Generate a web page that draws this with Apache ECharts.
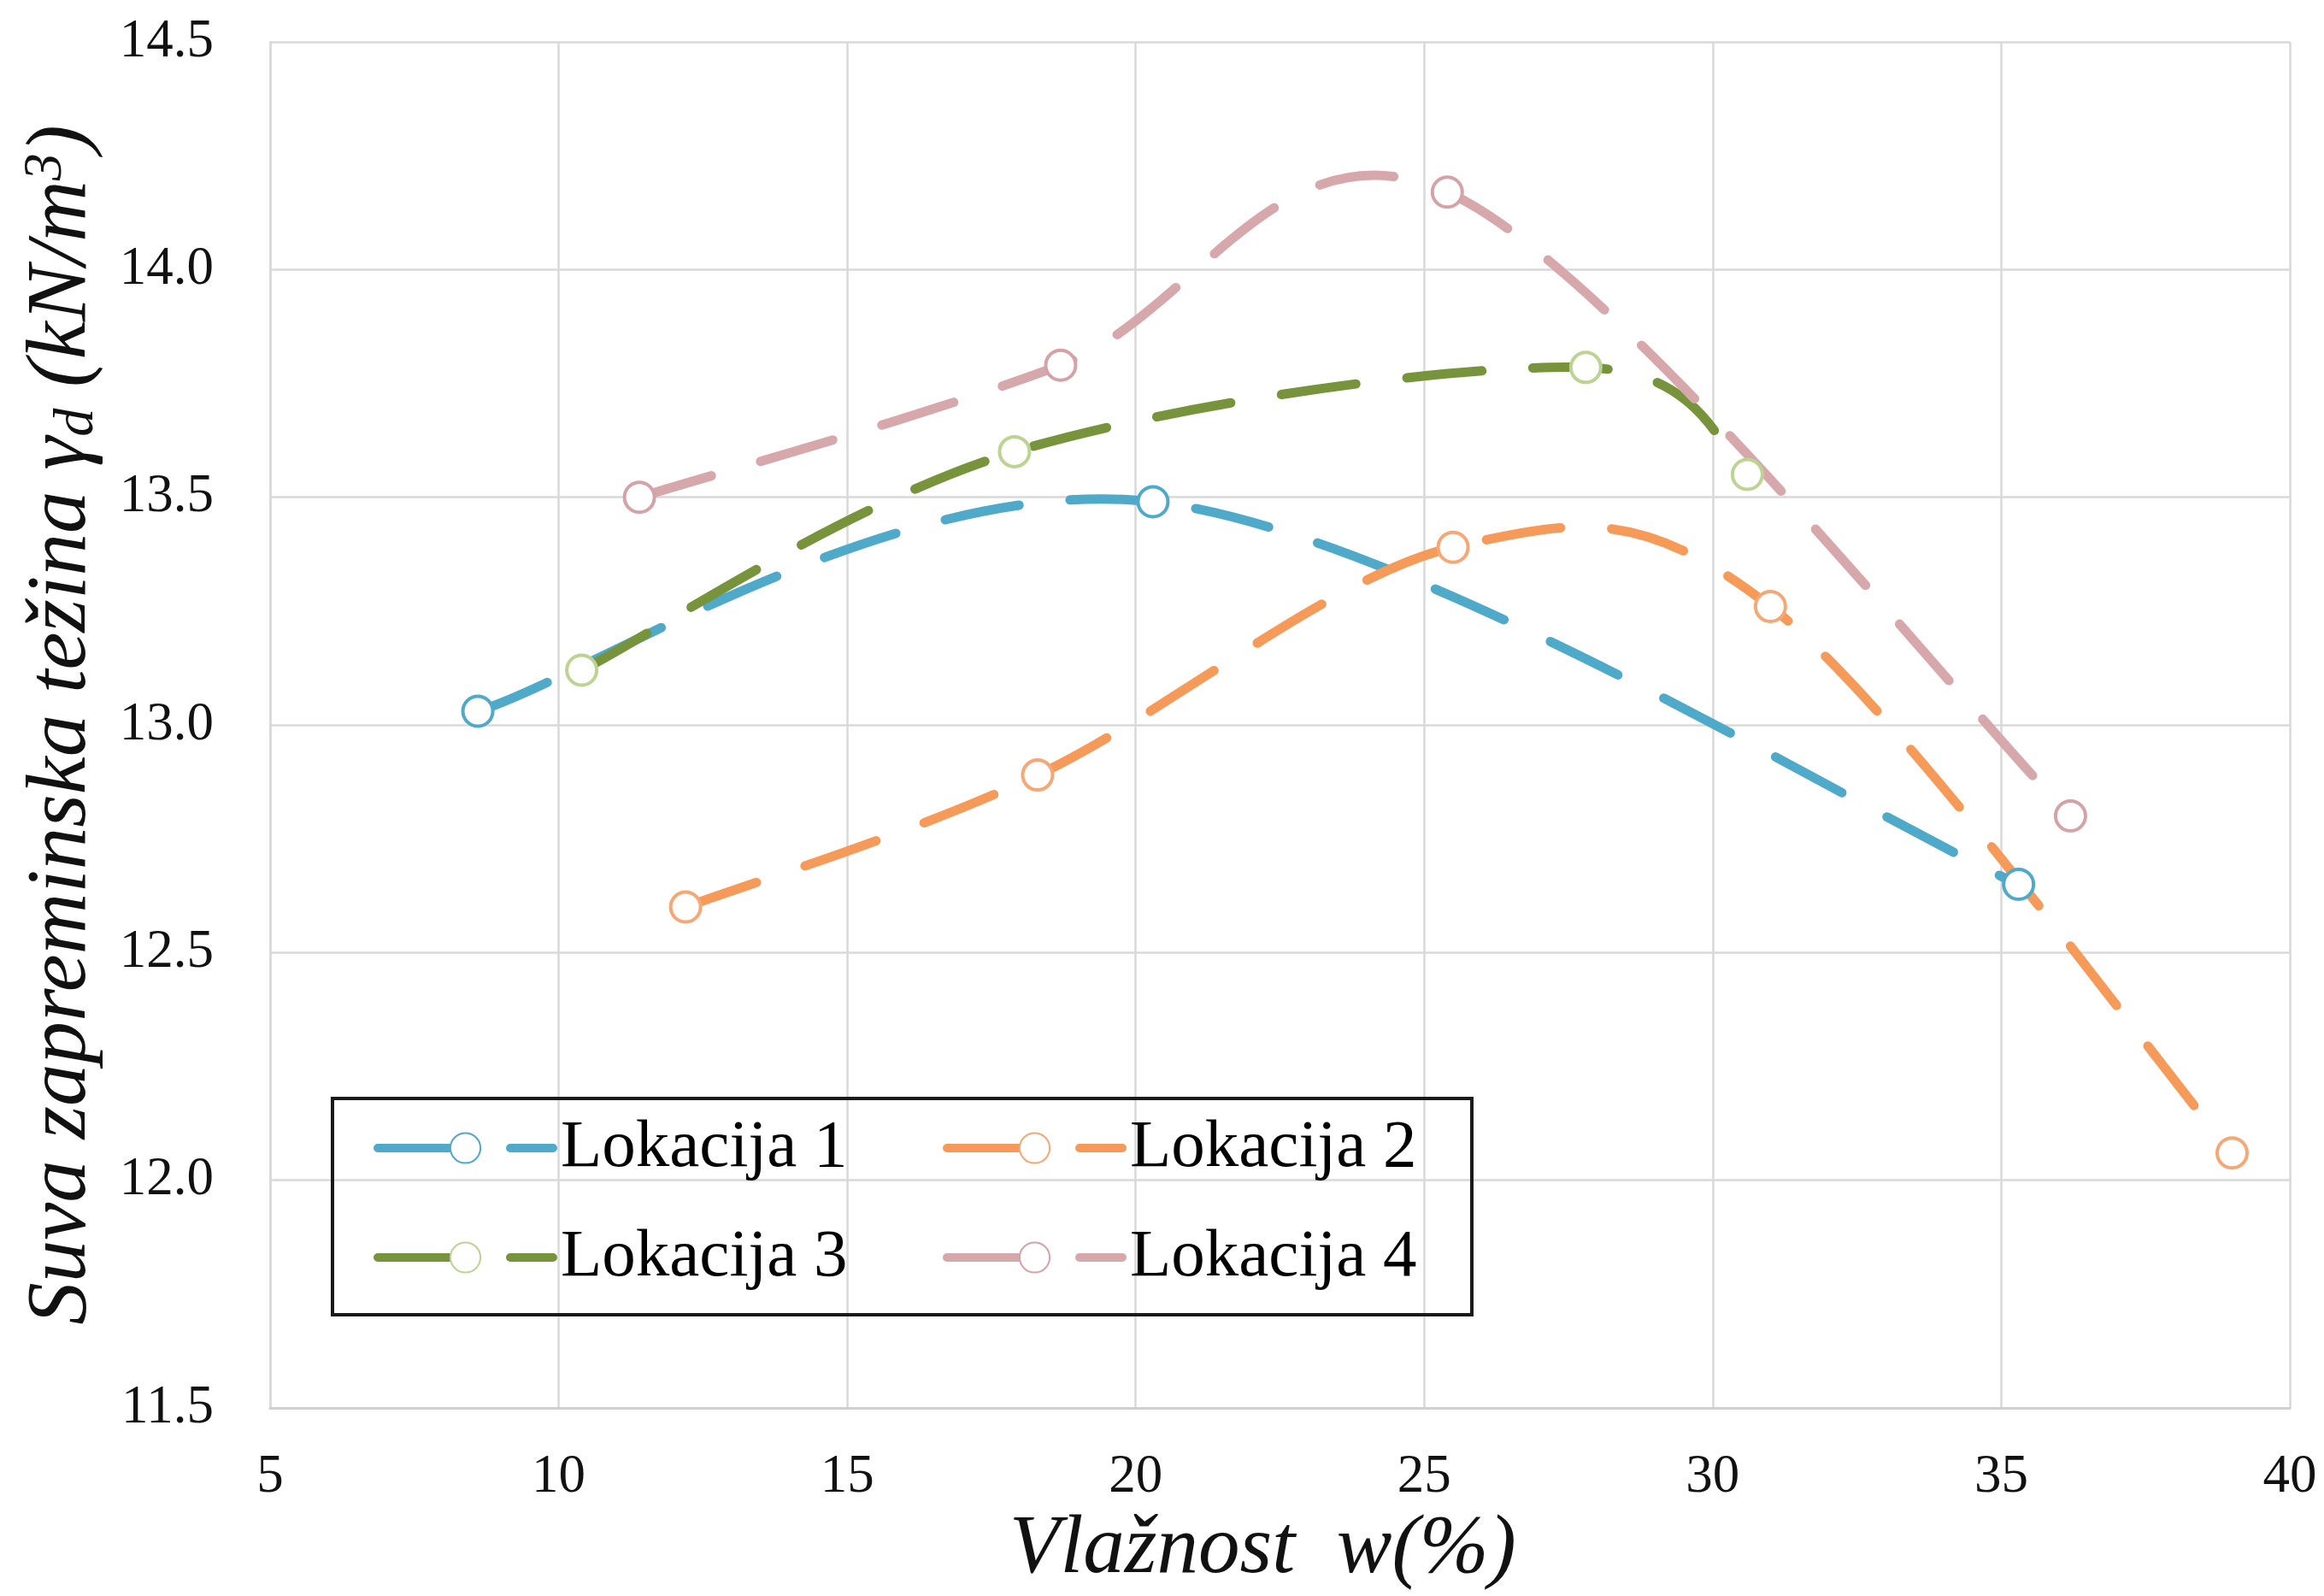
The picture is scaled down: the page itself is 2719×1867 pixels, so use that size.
<!DOCTYPE html>
<html>
<head>
<meta charset="utf-8">
<script src="https://cdn.jsdelivr.net/npm/echarts@6/dist/echarts.min.js"></script>
<style>html,body{margin:0;padding:0;background:#fff}#c{width:2719px;height:1867px}</style>
</head>
<body>
<div id="c"></div>
<script>
const seriesNames = ['Lokacija 1', 'Lokacija 2', 'Lokacija 3', 'Lokacija 4'];
const lok1X = [8.6, 20.3, 35.3];
const lok1Y = [13.03, 13.49, 12.65];
const lok2X = [12.2, 18.3, 25.5, 31.0, 39.0];
const lok2Y = [12.60, 12.89, 13.39, 13.26, 12.06];
const lok3X = [10.4, 17.9, 27.8, 30.6];
const lok3Y = [13.12, 13.60, 13.785, 13.55];
const lok4X = [11.4, 18.7, 25.4, 36.2];
const lok4Y = [13.50, 13.79, 14.17, 12.80];
const xTicks = [5, 10, 15, 20, 25, 30, 35, 40];
const yTicks = [11.5, 12.0, 12.5, 13.0, 13.5, 14.0, 14.5];

const lineColors = ['#4FA9C8', '#F69A5A', '#77933C', '#D7A8AB'];
const markerColors = ['#4FA9C8', '#F7A774', '#BCD393', '#D4A3A7'];

const FONT = '"Liberation Serif", "DejaVu Serif", serif';
const DASH = [88, 60];

function pairs(xs, ys) { return xs.map((x, i) => [x, ys[i]]); }
const allData = [pairs(lok1X, lok1Y), pairs(lok2X, lok2Y), pairs(lok3X, lok3Y), pairs(lok4X, lok4Y)];

// Smoothed curve (Catmull-Rom style Bezier, like a spreadsheet's smoothed line),
// computed in pixel space from the axis scales.
function curveRenderer(idx) {
  return function (params, api) {
    if (params.dataIndex !== 0) return null;
    const pts = allData[idx].map(p => api.coord(p));
    const n = pts.length;
    let d = 'M' + pts[0][0] + ' ' + pts[0][1];
    for (let k = 0; k < n - 1; k++) {
      const p0 = pts[Math.max(0, k - 1)];
      const p1 = pts[k];
      const p2 = pts[k + 1];
      const p3 = pts[Math.min(n - 1, k + 2)];
      const c1x = p1[0] + (p2[0] - p0[0]) / 6;
      const c1y = p1[1] + (p2[1] - p0[1]) / 6;
      const c2x = p2[0] - (p3[0] - p1[0]) / 6;
      const c2y = p2[1] - (p3[1] - p1[1]) / 6;
      d += ' C' + c1x + ' ' + c1y + ' ' + c2x + ' ' + c2y + ' ' + p2[0] + ' ' + p2[1];
    }
    return {
      type: 'path',
      shape: { pathData: d },
      style: { fill: 'none', stroke: lineColors[idx], lineWidth: 11, lineDash: DASH, lineCap: 'round', lineJoin: 'round' }
    };
  };
}

const markerSeries = seriesNames.map((name, i) => ({
  name: name,
  type: 'line',
  data: allData[i],
  smooth: false,
  symbol: 'circle',
  symbolSize: 35,
  showSymbol: true,
  lineStyle: { color: lineColors[i], width: 11, opacity: 0 },
  itemStyle: { color: '#ffffff', borderColor: markerColors[i], borderWidth: 4 },
  z: 5
}));

const curveSeries = seriesNames.map((name, i) => ({
  name: name + ' ',
  type: 'custom',
  data: allData[i],
  renderItem: curveRenderer(i),
  clip: false,
  silent: true,
  z: 2 + i * 0.1
}));

const legendCommon = {
  orient: 'vertical', top: 1301, padding: 0,
  itemWidth: 205, itemHeight: 44, itemGap: 44,
  lineStyle: { opacity: 1, width: 10, type: [85, 70], cap: 'round' },
  textStyle: { fontFamily: FONT, fontSize: 79, color: '#000', lineHeight: 84, padding: [0, 0, 0, 4] }
};

const chart = echarts.init(document.getElementById('c'), null, { renderer: 'canvas' });
chart.setOption({
  backgroundColor: '#ffffff',
  animation: false,
  textStyle: { fontFamily: FONT },
  grid: { left: 316, right: 40, top: 49, bottom: 220, containLabel: false },
  xAxis: {
    type: 'value', min: xTicks[0], max: xTicks[xTicks.length - 1], interval: 5,
    axisLine: { show: true, lineStyle: { color: '#d0d0d0', width: 3 } },
    axisTick: { show: false },
    splitLine: { show: true, lineStyle: { color: '#d9d9d9', width: 2.5 } },
    axisLabel: { fontFamily: FONT, fontSize: 63, color: '#111', margin: 50 },
    name: 'Vlažnost  w(%)',
    nameLocation: 'middle',
    nameGap: 118,
    nameTextStyle: { fontFamily: FONT, fontSize: 97, fontStyle: 'italic', color: '#111', padding: [0, 40, 0, 0] }
  },
  yAxis: {
    type: 'value', min: yTicks[0], max: yTicks[yTicks.length - 1], interval: 0.5,
    axisLine: { show: true, lineStyle: { color: '#d9d9d9', width: 2.5 } },
    axisTick: { show: false },
    splitLine: { show: true, lineStyle: { color: '#d9d9d9', width: 2.5 } },
    axisLabel: { fontFamily: FONT, fontSize: 63, color: '#111', margin: 66, formatter: v => v.toFixed(1) },
    name: '{i|Suva zapreminska težina γ}{s|d}{i| (kN/m}{p|3}{i|)}',
    nameLocation: 'middle',
    nameGap: 192,
    nameRotate: 90,
    nameTextStyle: {
      fontFamily: FONT, fontSize: 99, fontStyle: 'italic', color: '#111',
      rich: {
        i: { fontFamily: FONT, fontSize: 99, fontStyle: 'italic', color: '#111' },
        s: { fontFamily: FONT, fontSize: 66, fontStyle: 'italic', color: '#111', verticalAlign: 'bottom', padding: [36, 0, 0, 0] },
        p: { fontFamily: FONT, fontSize: 64, fontStyle: 'italic', color: '#111', verticalAlign: 'top', padding: [0, 0, 30, 0] }
      }
    }
  },
  legend: [
    Object.assign({ data: ['Lokacija 1', 'Lokacija 3'], left: 437 }, legendCommon),
    Object.assign({ data: ['Lokacija 2', 'Lokacija 4'], left: 1103 }, legendCommon)
  ],
  graphic: [{
    type: 'rect', left: 387, top: 1283, z: 10, silent: true,
    shape: { width: 1333, height: 253 },
    style: { fill: 'rgba(0,0,0,0)', stroke: '#1a1a1a', lineWidth: 4 }
  }, {
    type: 'rect', left: 389, top: 1285, z: 0, silent: true,
    shape: { width: 1329, height: 249 },
    style: { fill: '#ffffff' }
  }],
  series: markerSeries.concat(curveSeries)
});
</script>
</body>
</html>
